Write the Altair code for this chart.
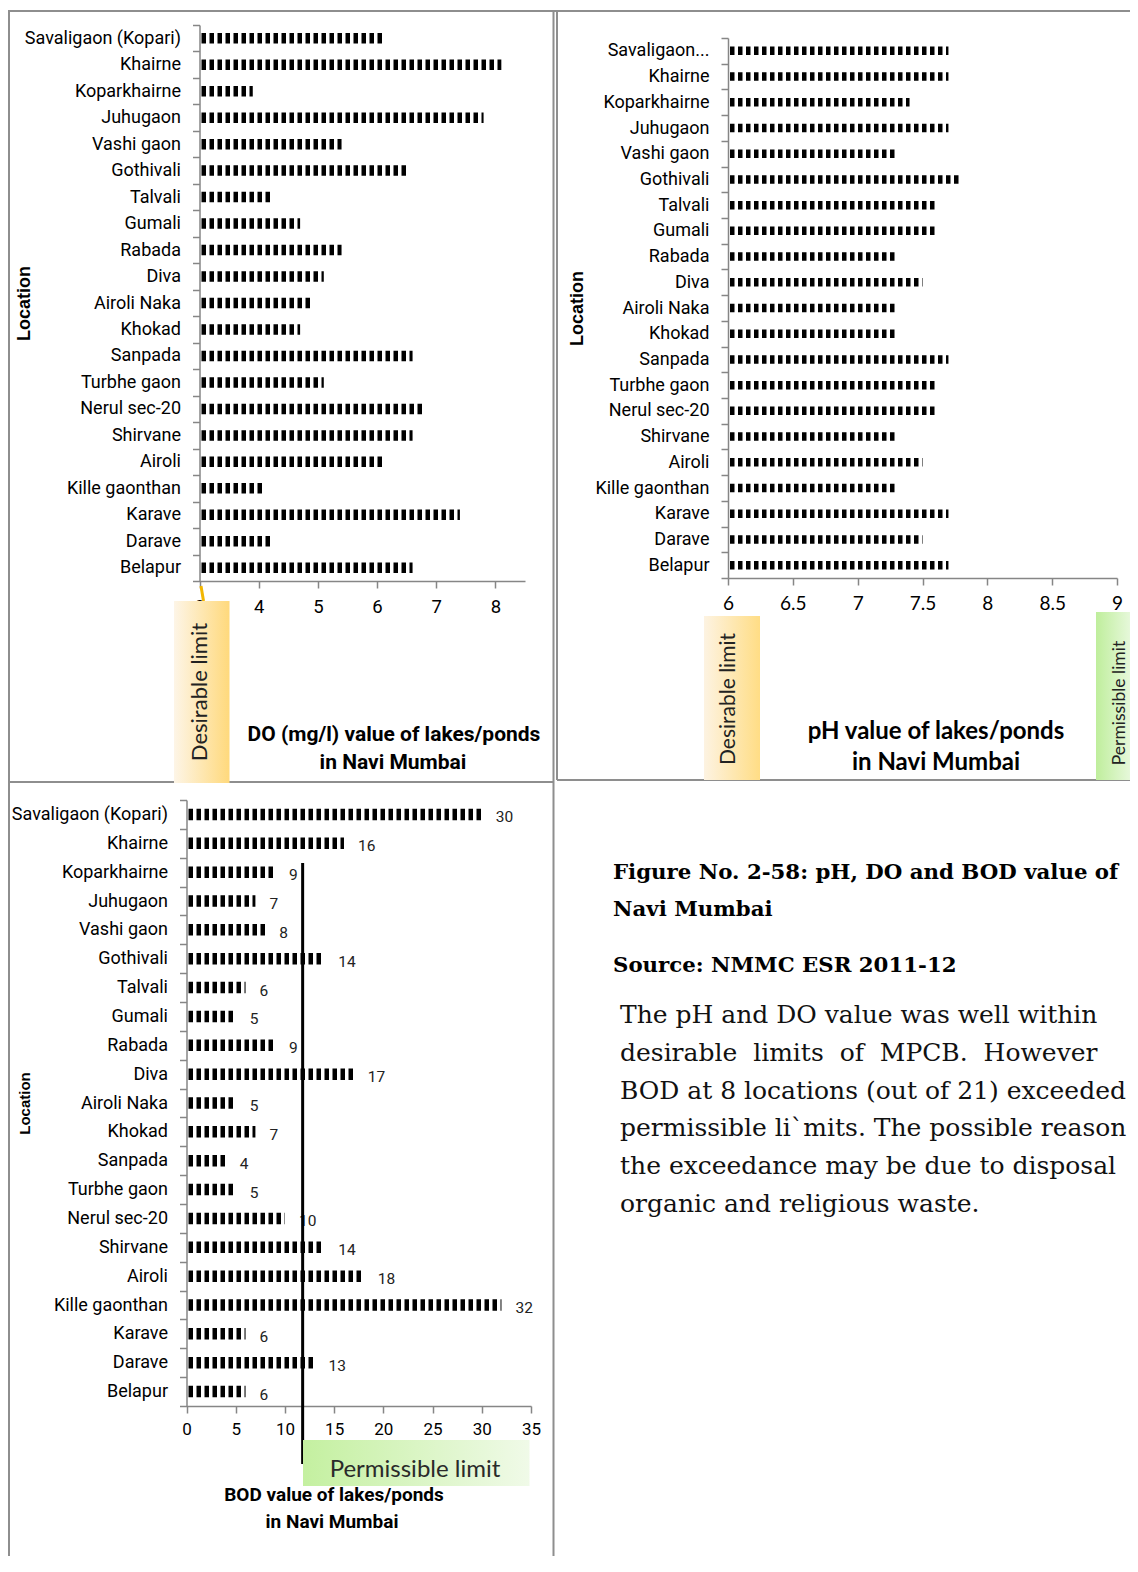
import altair as alt
import pandas as pd

# ---------------- data ----------------
locations = ["Savaligaon (Kopari)", "Khairne", "Koparkhairne", "Juhugaon", "Vashi gaon",
             "Gothivali", "Talvali", "Gumali", "Rabada", "Diva", "Airoli Naka", "Khokad",
             "Sanpada", "Turbhe gaon", "Nerul sec-20", "Shirvane", "Airoli", "Kille gaonthan",
             "Karave", "Darave", "Belapur"]
do_values = [6.1, 8.1, 3.9, 7.8, 5.4, 6.5, 4.2, 4.7, 5.4, 5.1, 4.9, 4.7, 6.6, 5.1, 6.8,
             6.6, 6.1, 4.1, 7.4, 4.2, 6.6]
ph_values = [7.7, 7.7, 7.4, 7.7, 7.3, 7.8, 7.6, 7.6, 7.3, 7.5, 7.3, 7.3, 7.7, 7.6, 7.6,
             7.3, 7.5, 7.3, 7.7, 7.5, 7.7]
bod_values = [30, 16, 9, 7, 8, 14, 6, 5, 9, 17, 5, 7, 4, 5, 10, 14, 18, 32, 6, 13, 6]

do_ticks = [3, 4, 5, 6, 7, 8]
ph_ticks = [6, 6.5, 7, 7.5, 8, 8.5, 9]
bod_ticks = [0, 5, 10, 15, 20, 25, 30, 35]
do_domain = [3, 8.5]
ph_domain = [6, 9]
bod_domain = [0, 35]
bod_permissible = 11.8

NB = "\u00a0"
paragraph = [
    "The pH and DO value was well within",
    f"desirable {NB}limits {NB}of {NB}MPCB. {NB}However",
    "BOD at 8 locations (out of 21) exceeded",
    "permissible li`mits. The possible reason",
    "the exceedance may be due to disposal",
    "organic and religious waste.",
]

# ---------------- style ----------------
W, H = 1122, 1548
NARROW = "Roboto, Liberation Sans, sans-serif"
SANS = "Liberation Sans, Arial, sans-serif"
CAL = "Lato, Open Sans, sans-serif"
SERIF = "DejaVu Serif, serif"
AX = "#868686"
FRAME = "#8e8e8e"

one = pd.DataFrame({"k": [0]})


def text(t, x, y, size, font, weight="normal", angle=0, color="black", align="center"):
    return alt.Chart(one).mark_text(text=t, font=font, fontSize=size, fontWeight=weight,
                                    angle=angle, color=color, align=align,
                                    baseline="middle").encode(x=alt.value(x), y=alt.value(y))


def box(x1, x2, y1, y2, c1, c2):
    grad = alt.Gradient(gradient="linear",
                        stops=[alt.GradientStop(color=c1, offset=0),
                               alt.GradientStop(color=c2, offset=1)],
                        x1=0, x2=1, y1=0, y2=0)
    return alt.Chart(one).mark_rect(fill=grad).encode(
        x=alt.value(x1), x2=alt.value(x2), y=alt.value(y1), y2=alt.value(y2))


def line(x1, x2, y1, y2, color=FRAME, width=2):
    return alt.Chart(one).mark_rule(color=color, strokeWidth=width).encode(
        x=alt.value(x1), x2=alt.value(x2), y=alt.value(y1), y2=alt.value(y2))


def yaxis(xpos, tx, ty, tsize, label_expr=None):
    kw = dict(orient="left", offset=-xpos, tickBand="extent", tickSize=7, tickColor=AX,
              domainColor=AX, domainWidth=1.5, tickWidth=1.5, labelFont=NARROW,
              labelFontSize=18, labelColor="black", labelPadding=12, labelLimit=400,
              title="Location", titleX=tx, titleY=ty, titleAngle=270, titleAlign="center",
              titleBaseline="middle", titleFont=SANS, titleFontSize=tsize,
              titleFontWeight="bold", titleColor="black", grid=False)
    if label_expr:
        kw["labelExpr"] = label_expr
    return alt.Axis(**kw)


def xaxis(ypos, ticks, font, size, pad):
    return alt.Axis(orient="bottom", offset=ypos - H, values=ticks, tickSize=7, tickColor=AX,
                    tickWidth=1.5, domainColor=AX, domainWidth=1.5, labelFont=font,
                    labelFontSize=size, labelColor="black", labelPadding=pad,
                    labelFlush=False, labelOverlap=False, format="~g", grid=False, title=None)


def yscale(r):
    return alt.Scale(domain=locations, range=r, paddingInner=0, paddingOuter=0)


def xscale(d, r):
    return alt.Scale(domain=d, range=r, zero=False, nice=False)


DO_Y, DO_X = [17, 573], [191.5, 517]
PH_Y, PH_X = [30, 570], [720, 1109]
BOD_Y, BOD_X = [792, 1398], [178.5, 523]

# ---------------- DO panel ----------------
do_df = pd.DataFrame({"loc": locations, "val": do_values, "base": do_domain[0]})
do_chart = alt.Chart(do_df).mark_rule(color="black", strokeWidth=10.5, strokeDash=[4.5, 3.5],
                                      strokeDashOffset=6).encode(
    y=alt.Y("loc:N", sort=None, scale=yscale(DO_Y), axis=yaxis(191.5, -175.5, 295, 18)),
    x=alt.X("base:Q", scale=xscale(do_domain, DO_X), axis=xaxis(573, do_ticks, NARROW, 18.5, 9)),
    x2=alt.X2("val"),
)

# ---------------- pH panel ----------------
ph_df = pd.DataFrame({"loc": locations, "val": ph_values, "base": ph_domain[0]})
ph_chart = alt.Chart(ph_df).mark_rule(color="black", strokeWidth=8.5, strokeDash=[4.5, 3.5],
                                      strokeDashOffset=6).encode(
    y=alt.Y("loc:N", sort=None, scale=yscale(PH_Y),
            axis=yaxis(720, -151, 300, 18,
                       "datum.value == 'Savaligaon (Kopari)' ? 'Savaligaon...' : datum.label")),
    x=alt.X("base:Q", scale=xscale(ph_domain, PH_X), axis=xaxis(570, ph_ticks, CAL, 19, 9)),
    x2=alt.X2("val"),
)

# ---------------- BOD panel ----------------
bod_df = pd.DataFrame({"loc": locations, "val": bod_values, "base": bod_domain[0]})
bod_bars = alt.Chart(bod_df).mark_rule(color="black", strokeWidth=11.5, strokeDash=[4.5, 3.5],
                                       strokeDashOffset=6).encode(
    y=alt.Y("loc:N", sort=None, scale=yscale(BOD_Y), axis=yaxis(178.5, -162.5, 1095, 15)),
    x=alt.X("base:Q", scale=xscale(bod_domain, BOD_X), axis=xaxis(1398, bod_ticks, NARROW, 17, 8)),
    x2=alt.X2("val"),
)
bod_labels = alt.Chart(bod_df).mark_text(align="left", baseline="middle", dx=14, dy=3, font=NARROW,
                                         fontSize=15.5, color="#222").encode(
    y=alt.Y("loc:N", sort=None, scale=yscale(BOD_Y), axis=None),
    x=alt.X("val:Q", scale=xscale(bod_domain, BOD_X), axis=None),
    text=alt.Text("val:Q"))
bod_lim_df = pd.DataFrame({"lim": [bod_permissible]})
bod_limit = alt.Chart(bod_lim_df).mark_rule(color="black", strokeWidth=3).encode(
    x=alt.X("lim:Q", scale=xscale(bod_domain, BOD_X), axis=None),
    y=alt.value(855), y2=alt.value(1456))

# ---------------- decorations ----------------
decor = [
    # frames
    line(0, W, 3, 3),
    line(1, 1, 3, H),
    line(545.5, 545.5, 3, H),
    line(549, 549, 3, 772),
    line(1, 545.5, 774, 774),
    line(549, W, 772, 772),
    # DO desirable limit
    line(193, 195.5, 578, 593, color="#f2b600", width=3),
    box(166, 221.5, 593, 775, "#fdf5e7", "#ffd97c"),
    text("Desirable limit", 192, 684, 22, CAL, angle=270, color="#222"),
    text("DO (mg/l) value of lakes/ponds", 386, 727, 21, NARROW, weight="bold"),
    text("in Navi Mumbai", 385, 755, 21, NARROW, weight="bold"),
    # pH limits
    box(696, 752, 608, 772, "#fdf3e2", "#ffdd85"),
    text("Desirable limit", 721, 691, 21, CAL, angle=270, color="#222"),
    box(1088, W, 604, 772, "#bfee9c", "#e6f8da"),
    text("Permissible limit", 1112, 695, 17.5, CAL, angle=270, color="#222"),
    text("pH value of lakes/ponds", 928, 724, 24, CAL, weight="bold"),
    text("in Navi Mumbai", 928, 755, 24, CAL, weight="bold"),
    # BOD limit box + title
    box(295, 521.5, 1432, 1478, "#c4f0a0", "#f0fae8"),
    text("Permissible limit", 407, 1462, 24, CAL, color="#2a2a2a"),
    text("BOD value of lakes/ponds", 326, 1487, 19, NARROW, weight="bold"),
    text("in Navi Mumbai", 324, 1514, 19, NARROW, weight="bold"),
    # caption
    text("Figure No. 2-58: pH, DO and BOD value of", 605, 865, 21.3, SERIF, weight="bold", align="left"),
    text("Navi Mumbai", 605, 902, 21.3, SERIF, weight="bold", align="left"),
    text("Source: NMMC ESR 2011-12", 605, 958, 21.3, SERIF, weight="bold", align="left"),
]
for i, ln in enumerate(paragraph):
    decor.append(text(ln, 612, 1007 + i * 37.8, 25, SERIF, align="left", color="#111"))

chart = alt.layer(do_chart, ph_chart, bod_bars, bod_labels, bod_limit, *decor).resolve_scale(
    x="independent", y="independent").resolve_axis(
    x="independent", y="independent").properties(
    width=W, height=H, padding=0, autosize=alt.AutoSizeParams(type="none")
).configure_view(stroke=None)

chart.save("out.html", embed_options={"renderer": "svg", "actions": False})
